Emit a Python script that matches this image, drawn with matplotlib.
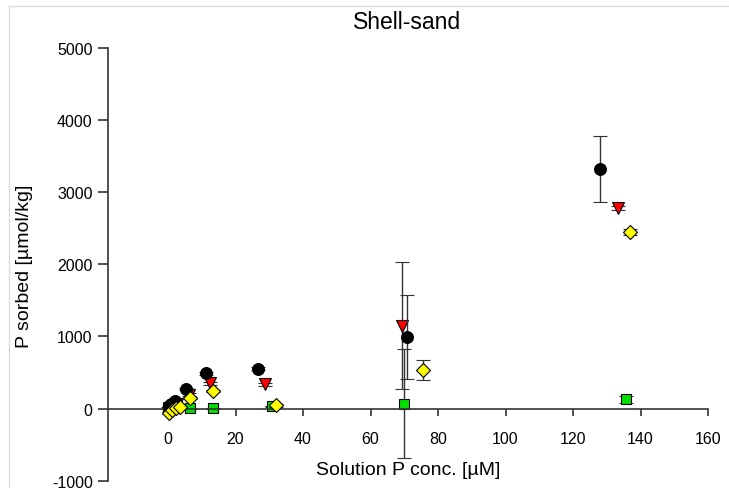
import numpy as np
import matplotlib
matplotlib.use("Agg")
import matplotlib.pyplot as plt
from matplotlib.lines import Line2D

plt.rcParams["font.family"] = ["Liberation Sans", "DejaVu Sans"]
plt.rcParams["axes.unicode_minus"] = False

# ── data (solution P µM vs P sorbed µmol/kg) ─────────────────────────────────
circle_x   = [0.2, 1.0, 2.2, 5.4, 11.3, 26.7, 70.7, 128.0]
circle_y   = [30, 70, 100, 275, 490, 555, 995, 3320]
circle_err = [10, 10, 10, 15, 20, 20, 585, 460]

tri_x   = [0.4, 1.5, 2.6, 6.2, 12.4, 28.7, 69.2, 133.3]
tri_y   = [15, 40, 60, 195, 350, 335, 1150, 2785]
tri_err = [10, 10, 10, 15, 20, 20, 880, 30]

dia_x   = [0.3, 1.3, 2.4, 3.5, 6.4, 13.4, 32.0, 75.5, 137.0]
dia_y   = [-60, -25, 10, 20, 150, 245, 45, 532, 2448]
dia_err = [10, 10, 10, 10, 15, 15, 20, 140, 40]

sq_x   = [0.1, 0.6, 6.5, 13.2, 30.7, 70.0, 135.6]
sq_y   = [10, 20, 5, 5, 30, 70, 130]
sq_err = [10, 10, 10, 10, 10, 755, 50]

x_ticks = [0, 20, 40, 60, 80, 100, 120, 140, 160]
y_ticks = [-1000, 0, 1000, 2000, 3000, 4000, 5000]

fig = plt.figure(figsize=(7.29, 4.89), dpi=100)
ax = fig.add_axes([108 / 729, 1 - 481.7 / 489, 600 / 729, (481.7 - 49) / 489])

# light frame of the original page (left and top edges only)
fig.lines.append(Line2D([9 / 729, 9 / 729], [0, 1 - 7 / 489], transform=fig.transFigure,
                        color="#dcdcdc", lw=1.0))
fig.lines.append(Line2D([9 / 729, 1], [1 - 7 / 489, 1 - 7 / 489], transform=fig.transFigure,
                        color="#dcdcdc", lw=1.0))

ebkw = dict(ls="none", ecolor="#333333", elinewidth=1.0, capsize=4.7,
            capthick=1.0, markeredgecolor="black", markeredgewidth=0.8)

ax.errorbar(sq_x, sq_y, yerr=sq_err, marker="s", ms=7.5,
            mfc="#00e000", zorder=2, **ebkw)
ax.errorbar(tri_x, tri_y, yerr=tri_err, marker="v", ms=8,
            mfc="#ff0000", zorder=2.5, **ebkw)
ax.errorbar(circle_x, circle_y, yerr=circle_err, marker="o", ms=8.5,
            mfc="black", zorder=3, **ebkw)
ax.errorbar(dia_x, dia_y, yerr=dia_err, marker="D", ms=7,
            mfc="#ffff00", zorder=4, **ebkw)

ax.set_xlim(-17.8, 160)
ax.set_ylim(-1000, 5000)
ax.set_xticks(x_ticks)
ax.set_yticks(y_ticks)

for s in ("top", "right"):
    ax.spines[s].set_visible(False)
ax.spines["bottom"].set_position(("data", 0))
for s in ("bottom", "left"):
    ax.spines[s].set_color("#333333")
    ax.spines[s].set_linewidth(1.2)

ax.tick_params(axis="x", direction="out", length=5, width=1.2,
               colors="#333333", labelcolor="black", labelsize=11.5, pad=11)
ax.tick_params(axis="y", direction="out", length=7, width=1.2,
               colors="#333333", labelcolor="black", labelsize=11.5, pad=4)

ax.text(0.5, 0.027, "Solution P conc. [µM]", transform=ax.transAxes,
        ha="center", va="center", fontsize=14)
fig.text(25 / 729, 1 - 266 / 489, "P sorbed [µmol/kg]", rotation=90,
         ha="center", va="center", fontsize=14)
fig.text(407 / 729, 1 - 22.5 / 489, "Shell-sand", ha="center", va="center",
         fontsize=16.5)

fig.savefig("out.png", dpi=100)
